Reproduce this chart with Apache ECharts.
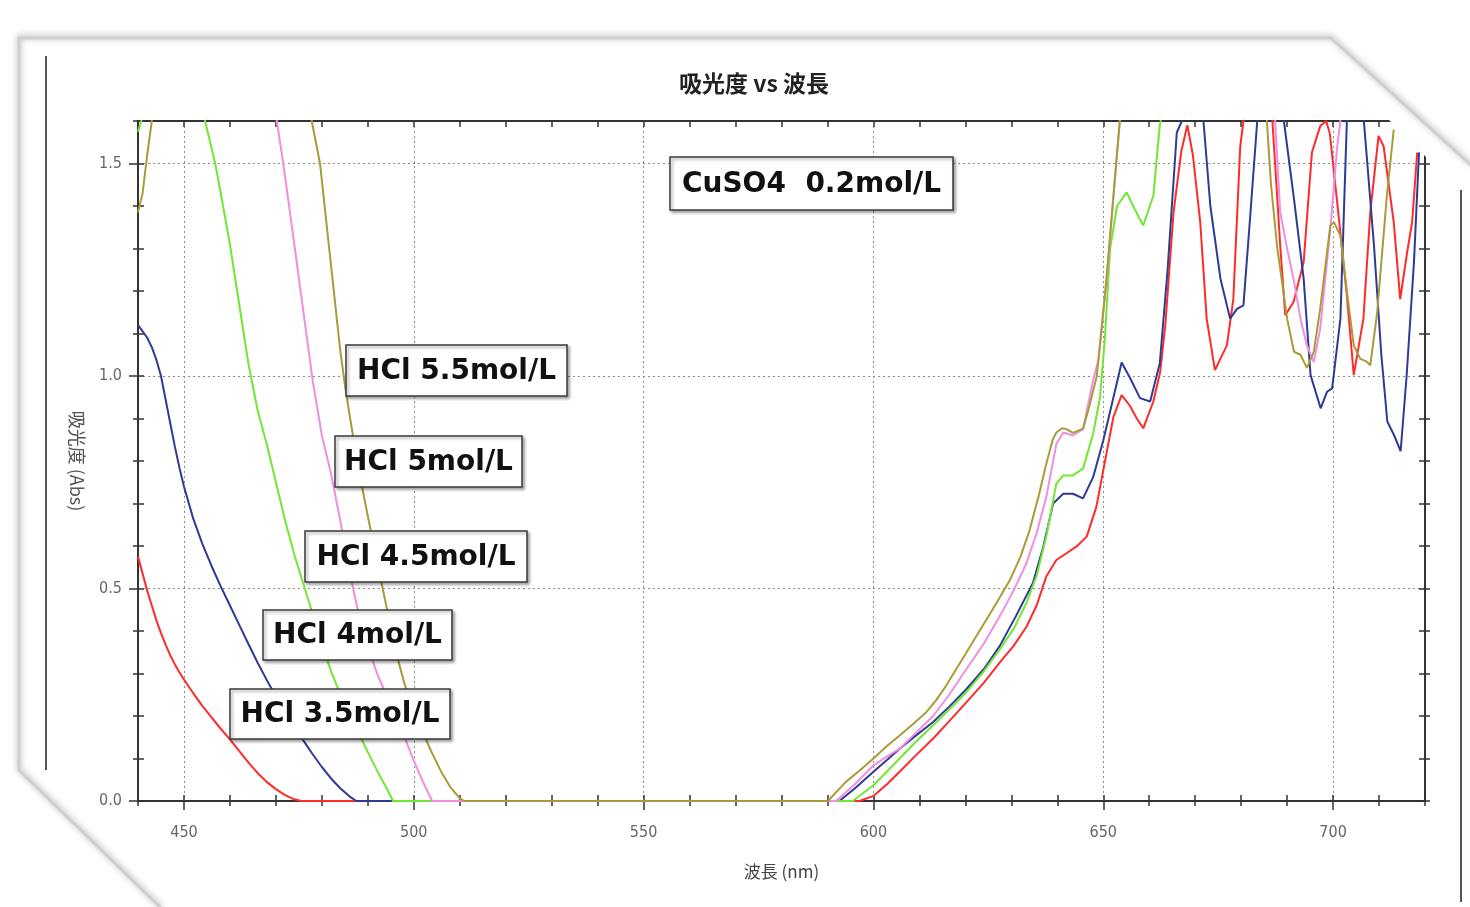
<!DOCTYPE html>
<html><head><meta charset="utf-8">
<script src="https://cdn.jsdelivr.net/npm/echarts@6/dist/echarts.min.js"></script>
<style>html,body{margin:0;padding:0;background:#fff;}#c{width:1470px;height:907px;}</style>
</head><body><div id="c"></div>
<script>
// ---- data ----
const titleText = '吸光度 vs 波長';
const xName = '波長 (nm)';
const yName = '吸光度 (Abs)';
const xMajorTicks = [450, 500, 550, 600, 650, 700];
const seriesNames = ['HCl 3.5mol/L', 'HCl 4mol/L', 'HCl 4.5mol/L', 'HCl 5mol/L', 'HCl 5.5mol/L'];
const noteMain = 'CuSO4  0.2mol/L';

const hcl35 = [[440,0.575],[441,0.535],[442,0.495],[443,0.46],[444,0.425],[445,0.395],[446,0.368],[447,0.343],[448,0.322],[449,0.303],[450,0.286],[452,0.254],[454,0.224],[456,0.197],[458,0.17],[460,0.145],[462,0.118],[464,0.091],[466,0.066],[468,0.045],[470,0.028],[472,0.014],[474,0.004],[475.5,0],
[597,0],[600,0.012],[603,0.04],[605.7,0.069],[609,0.105],[613,0.147],[616.5,0.188],[620.2,0.232],[624,0.278],[627.5,0.326],[630.5,0.365],[633.3,0.41],[635.5,0.46],[637.6,0.528],[639.8,0.567],[642,0.583],[644.2,0.599],[646.4,0.622],[648.5,0.692],[650,0.778],[652.2,0.903],[654,0.955],[655.8,0.93],[657.3,0.9],[658.7,0.877],[660.9,0.94],[662.4,1.01],[663.5,1.12],[665.3,1.386],[667,1.53],[668.3,1.59],[669.5,1.52],[671.1,1.362],[672.5,1.135],[674.3,1.014],[676.9,1.072],[678.3,1.181],[679.8,1.54],[680.5,1.6],[681,1.75],[686,1.75],[686.8,1.6],[688.5,1.307],[689.6,1.143],[691.4,1.174],[693.6,1.268],[695.4,1.526],[697.2,1.588],[698.5,1.6],[699.3,1.57],[700.9,1.408],[703,1.19],[704.5,1.002],[706.6,1.135],[708.1,1.386],[709.9,1.565],[711,1.54],[713.2,1.362],[714.6,1.181],[716.1,1.29],[717.2,1.362],[718.3,1.526]];

const hcl40 = [[440,1.12],[441,1.105],[442,1.09],[443,1.068],[444,1.038],[445,1.0],[446,0.945],[447,0.89],[448,0.835],[449,0.785],[450,0.74],[452,0.665],[454,0.605],[456,0.553],[458,0.505],[460,0.46],[462,0.415],[464,0.37],[466,0.326],[468,0.285],[470,0.246],[472,0.21],[474,0.175],[476,0.142],[478,0.11],[480,0.08],[482,0.053],[484,0.03],[486,0.011],[487.5,0],
[592.6,0],[596,0.03],[600,0.069],[603,0.097],[605.7,0.123],[609,0.152],[613,0.186],[616.5,0.222],[620.2,0.263],[624,0.31],[627.5,0.365],[631,0.435],[634.7,0.513],[637,0.6],[639.1,0.7],[641.3,0.723],[643.4,0.723],[645.6,0.712],[647.8,0.762],[650,0.848],[652.2,0.949],[654,1.032],[655.8,0.996],[658,0.948],[660.2,0.94],[662.3,1.03],[664,1.25],[666,1.573],[667.1,1.6],[667.6,1.75],[671.3,1.75],[671.8,1.6],[673.3,1.4],[675.5,1.229],[677.6,1.135],[679.1,1.158],[680.5,1.166],[682,1.38],[683.5,1.6],[684,1.75],[688.8,1.75],[689.3,1.6],[691.5,1.416],[693.6,1.229],[695.1,1.002],[697.3,0.924],[698.7,0.963],[699.8,0.971],[701.6,1.135],[703,1.6],[703.5,1.75],[706.2,1.75],[706.7,1.6],[708.9,1.307],[710.5,1.05],[711.8,0.893],[713.3,0.86],[714.7,0.823],[716,1.0],[717.6,1.268],[718.7,1.526]];

const hcl45 = [[440,1.575],[441,1.61],[442,1.75],[453,1.75],[454.6,1.6],[456.8,1.5],[458,1.43],[460,1.31],[462,1.17],[464,1.03],[466,0.92],[468,0.84],[470,0.75],[472,0.66],[474,0.58],[476,0.51],[478,0.44],[480,0.37],[482,0.305],[484,0.252],[486,0.208],[488,0.16],[490,0.115],[492,0.072],[494,0.032],[495.5,0],
[595.5,0],[600,0.037],[603,0.07],[605.7,0.1],[609,0.137],[613,0.178],[616.5,0.215],[620.2,0.256],[624,0.305],[627.5,0.357],[630.5,0.405],[633.3,0.466],[635.5,0.53],[637.6,0.622],[639.8,0.747],[641.3,0.766],[643.4,0.766],[645.6,0.782],[647.8,0.864],[649.3,0.95],[650.3,1.08],[651.5,1.3],[653,1.4],[655.1,1.432],[656.5,1.4],[658.7,1.354],[660.9,1.424],[662.3,1.59],[662.5,1.6],[663,1.75],[716,1.75]];

const hcl50 = [[440,1.75],[469,1.75],[470.2,1.6],[471.6,1.5],[473,1.39],[474,1.31],[476,1.15],[478,0.99],[480,0.86],[482,0.77],[484,0.66],[486,0.54],[488,0.44],[490,0.365],[492,0.3],[494,0.25],[496,0.208],[498,0.15],[500,0.095],[502,0.045],[504,0],
[591.9,0],[596,0.04],[600,0.084],[603,0.105],[605.7,0.123],[609,0.158],[613,0.2],[616.5,0.25],[620.2,0.31],[624,0.37],[627.5,0.435],[630.5,0.495],[633.3,0.56],[635.5,0.63],[637.6,0.715],[639.8,0.84],[641.3,0.867],[643.4,0.86],[645.6,0.875],[647.8,0.99],[649,1.04],[650.7,1.22],[652.5,1.46],[653.6,1.6],[654,1.75],[687,1.75],[687.4,1.6],[688.5,1.386],[690,1.3],[691.4,1.229],[693,1.13],[694.3,1.072],[695.8,1.033],[697.2,1.111],[699.4,1.346],[700.9,1.54],[701.6,1.6],[702,1.75],[714,1.75]];

const hcl55 = [[440,1.385],[441,1.43],[442,1.52],[443,1.6],[443.5,1.75],[477,1.75],[477.8,1.6],[479.6,1.5],[481,1.36],[482,1.26],[484,1.06],[485,0.98],[486,0.91],[488,0.78],[490,0.67],[492,0.565],[494,0.46],[496,0.355],[498,0.275],[500,0.212],[502,0.16],[504,0.112],[506,0.068],[508,0.032],[510,0.006],[511,0],
[590.1,0],[592,0.022],[594,0.045],[597,0.072],[600,0.1],[603,0.13],[605.7,0.154],[608.5,0.18],[611.5,0.209],[613.5,0.235],[615.8,0.271],[618,0.31],[620.2,0.349],[622.4,0.388],[624.6,0.427],[627,0.47],[629.7,0.52],[632,0.575],[634,0.638],[636,0.72],[637.6,0.793],[639,0.85],[639.8,0.867],[641,0.877],[642,0.875],[643.4,0.866],[645.6,0.876],[647,0.93],[648.6,1.0],[650.7,1.23],[652.5,1.46],[653.6,1.6],[654,1.75],[685,1.75],[685.6,1.6],[686.5,1.45],[687.8,1.307],[690,1.135],[691.5,1.057],[692.9,1.05],[694.3,1.019],[695.8,1.057],[697.2,1.158],[699.4,1.354],[700.2,1.362],[701.6,1.33],[703,1.2],[704.5,1.072],[705.9,1.041],[707.4,1.033],[708.1,1.025],[709.6,1.15],[711.7,1.424],[713.2,1.58]];

const seriesData = [hcl35, hcl40, hcl45, hcl50, hcl55];
const seriesColors = ['#ff2b2b', '#2e3b94', '#70e832', '#f08ee2', '#a99b38'];

// ---- chart ----
const chart = echarts.init(document.getElementById('c'), null, {renderer: 'canvas'});
const labelFont = "'DejaVu Sans Condensed', 'Liberation Sans Narrow', sans-serif";
const cjk = "'Noto Sans CJK JP', 'Noto Sans CJK SC', sans-serif";
const axisCol = '#333';
const gridLine = {show: true, lineStyle: {color: '#8c8c8c', type: [2, 3], width: 1}};

function minorAxis(pos, inside, len, interval, isX) {
  return {
    type: 'value', position: pos, min: isX ? 440 : 0, max: isX ? 720 : 1.6, interval: interval,
    axisLine: {show: false}, axisLabel: {show: false}, splitLine: {show: false},
    axisTick: {show: true, inside: inside, length: len, lineStyle: {color: axisCol, width: 1.5}}
  };
}

const option = {
  animation: false,
  backgroundColor: 'transparent',
  title: {
    text: titleText, left: 674, top: 67,
    textStyle: {fontFamily: cjk, fontWeight: 'bold', fontSize: 23, color: '#222'}
  },
  grid: {left: 138, top: 121, width: 1287, height: 680, containLabel: false},
  xAxis: [
    {
      type: 'value', position: 'bottom', min: 440, max: 720, interval: 10,
      name: xName, nameLocation: 'middle', nameGap: 62,
      nameTextStyle: {fontFamily: cjk, fontSize: 17, color: '#444'},
      axisLine: {show: true, onZero: false, lineStyle: {color: axisCol, width: 2}},
      axisTick: {show: true, customValues: xMajorTicks, inside: false, length: 9, lineStyle: {color: axisCol, width: 1.5}},
      axisLabel: {customValues: xMajorTicks, margin: 24, fontFamily: labelFont, fontSize: 16, color: '#666'},
      splitLine: gridLine
    },
    minorAxis('bottom', true, 6, 10, true),
    minorAxis('bottom', false, 5, 10, true),
    Object.assign(minorAxis('top', true, 6, 10, true), {axisLine: {show: true, onZero: false, lineStyle: {color: axisCol, width: 2}}})
  ],
  yAxis: [
    {
      type: 'value', position: 'left', min: 0, max: 1.6, interval: 0.5,
      name: yName, nameLocation: 'middle', nameGap: 52, nameRotate: -90,
      nameTextStyle: {fontFamily: cjk, fontSize: 18, color: '#555'},
      axisLine: {show: true, onZero: false, lineStyle: {color: axisCol, width: 2}},
      axisTick: {show: true, inside: false, length: 9, lineStyle: {color: axisCol, width: 1.5}},
      axisLabel: {margin: 16, fontFamily: labelFont, fontSize: 16, color: '#666', showMaxLabel: false,
        formatter: v => v.toFixed(1)},
      splitLine: gridLine
    },
    minorAxis('left', true, 6, 0.1, false),
    minorAxis('left', false, 5, 0.1, false),
    Object.assign(minorAxis('right', true, 6, 0.1, false), {axisLine: {show: true, onZero: false, lineStyle: {color: axisCol, width: 2}}}),
    minorAxis('right', false, 5, 0.1, false)
  ],
  series: seriesData.map((d, i) => ({
    type: 'line', name: seriesNames[i], data: d, xAxisIndex: 0, yAxisIndex: 0,
    showSymbol: false, symbol: 'none', clip: true, z: 3,
    lineStyle: {color: seriesColors[i], width: 2}
  })),
  graphic: {elements: []}
};

// decorative page frame and annotation boxes
const els = option.graphic.elements;
els.push({type: 'polygon', z: 100, silent: true,
  shape: {points: [[1377, 108], [1445, 108], [1445, 176]]}, style: {fill: '#fff'}});
els.push({type: 'polyline', z: 101, silent: true,
  shape: {points: [[162, 909], [19, 770], [19, 38], [1331, 38], [1472, 166]]},
  style: {stroke: '#cfcfcf', lineWidth: 3, fill: null, shadowBlur: 6, shadowColor: 'rgba(0,0,0,0.35)', shadowOffsetY: -1}});
els.push({type: 'line', z: 101, silent: true, shape: {x1: 46, y1: 56, x2: 46, y2: 770},
  style: {stroke: '#555', lineWidth: 2}});
els.push({type: 'line', z: 101, silent: true, shape: {x1: 1461, y1: 190, x2: 1461, y2: 902},
  style: {stroke: '#555', lineWidth: 2}});

const boxFont = "bold 28px 'DejaVu Sans', sans-serif";
function noteBox(text, x, y, w, h) {
  els.push({type: 'rect', z: 110, silent: true, shape: {x: x, y: y, width: w, height: h},
    style: {fill: '#fff', stroke: '#3a3a3a', lineWidth: 1.5, shadowBlur: 3, shadowOffsetX: 2, shadowOffsetY: 2, shadowColor: 'rgba(0,0,0,0.35)'}});
  els.push({type: 'text', z: 111, silent: true, x: x + w / 2, y: y + h / 2 + 1,
    style: {text: text, font: boxFont, fill: '#111', align: 'center', verticalAlign: 'middle'}});
}
noteBox(noteMain, 670, 157, 283, 53);
noteBox(seriesNames[4], 346, 345, 221, 51);
noteBox(seriesNames[3], 335, 436, 187, 51);
noteBox(seriesNames[2], 305, 531, 222, 51);
noteBox(seriesNames[1], 263, 610, 189, 50);
noteBox(seriesNames[0], 230, 689, 220, 50);

chart.setOption(option);
</script></body></html>
